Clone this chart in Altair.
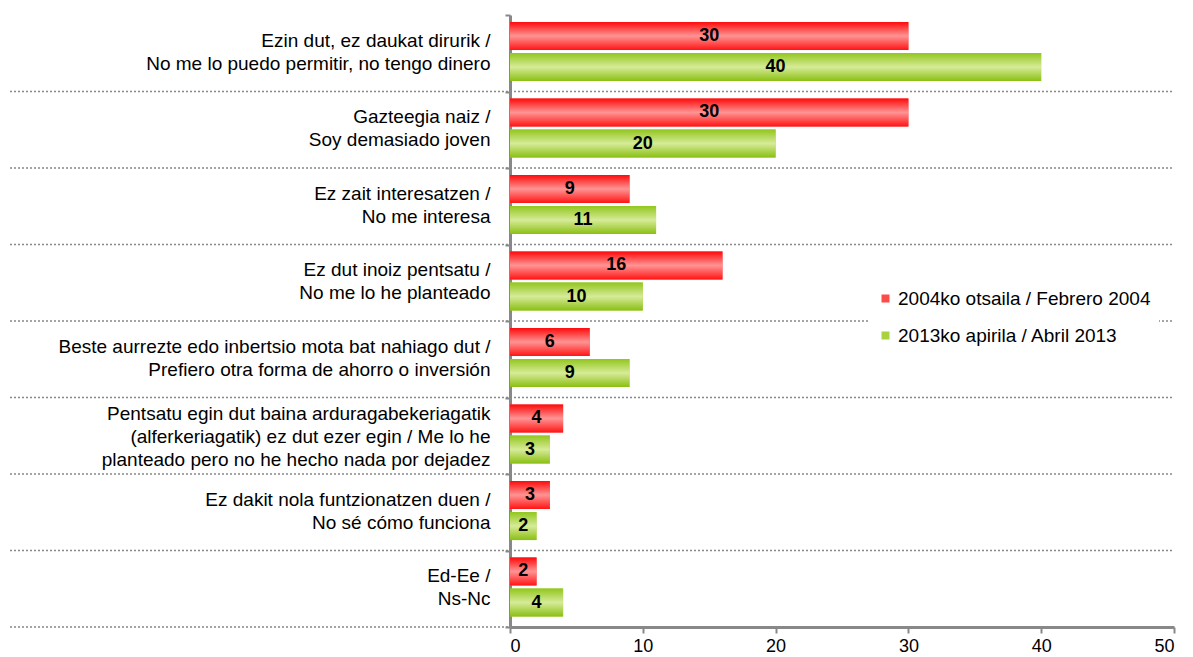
import altair as alt
import pandas as pd

categories = [
    "Ezin dut, ez daukat dirurik /\nNo me lo puedo permitir, no tengo dinero",
    "Gazteegia naiz /\nSoy demasiado joven",
    "Ez zait interesatzen /\nNo me interesa",
    "Ez dut  inoiz pentsatu /\nNo me lo he planteado",
    "Beste aurrezte edo inbertsio mota bat nahiago dut /\nPrefiero otra forma de ahorro o inversión",
    "Pentsatu egin dut baina arduragabekeriagatik\n(alferkeriagatik) ez dut ezer egin / Me lo he\nplanteado pero no he hecho nada por dejadez",
    "Ez dakit nola funtzionatzen duen /\nNo sé cómo funciona",
    "Ed-Ee /\nNs-Nc",
]
series = ["2004ko otsaila / Febrero 2004", "2013ko apirila / Abril 2013"]
values_2004 = [30, 30, 9, 16, 6, 4, 3, 2]
values_2013 = [40, 20, 11, 10, 9, 3, 2, 4]
x_ticks = [0, 10, 20, 30, 40, 50]

rows = []
for c, a, b in zip(categories, values_2004, values_2013):
    rows.append({"category": c, "series": series[0], "value": a})
    rows.append({"category": c, "series": series[1], "value": b})
df = pd.DataFrame(rows)
sep_df = pd.DataFrame({"category": categories})

red_grad = {"gradient": "linear", "x1": 0, "x2": 0, "y1": 0, "y2": 1,
            "stops": [{"offset": 0, "color": "#ff0a0a"},
                      {"offset": 0.5, "color": "#ff9494"},
                      {"offset": 1, "color": "#ff1414"}]}
green_grad = {"gradient": "linear", "x1": 0, "x2": 0, "y1": 0, "y2": 1,
              "stops": [{"offset": 0, "color": "#92c61e"},
                        {"offset": 0.5, "color": "#d6eb98"},
                        {"offset": 1, "color": "#8abf12"}]}

FS = 19

y_axis = alt.Axis(title=None,
                  labelExpr="split(datum.label, '\\n')",
                  labelFontSize=FS, labelColor="#000000",
                  labelLineHeight=23, labelAlign="right",
                  labelBaseline="middle", labelLimit=0,
                  labelOverlap=False,
                  labelOffset={"condition": {"test": "length(split(datum.value, '\\n')) > 2",
                                             "value": -22},
                               "value": -13},
                  tickBand="extent", ticks=True, tickSize=5,
                  tickColor="#888888", tickWidth=2,
                  labelPadding=15, grid=False,
                  domainColor="#888888", domainWidth=3)
y_scale = alt.Scale(paddingInner=0, paddingOuter=0)

y_enc = alt.Y("category:N", sort=categories, scale=y_scale, axis=y_axis)
yoff_enc = alt.YOffset("series:N", sort=series,
                       scale=alt.Scale(paddingInner=0.1, paddingOuter=0.28, align=0.4))
x_enc = alt.X("value:Q",
              scale=alt.Scale(domain=[0, 50], nice=False),
              axis=alt.Axis(title=None, values=x_ticks, grid=False,
                            domainColor="#888888", domainWidth=3,
                            tickColor="#888888", tickWidth=2, tickSize=6,
                            labelFontSize=18, labelColor="#000000",
                            labelPadding=4))

separators = alt.Chart(sep_df).mark_rule(
    color="#888888", strokeDash=[2, 2], strokeWidth=1.5
).encode(
    y=alt.Y("category:N", sort=categories, scale=y_scale, axis=y_axis, bandPosition=1),
    x=alt.value(-500), x2=alt.value(664),
)

base = alt.Chart(df)

legend_bars = base.mark_bar().encode(
    y=y_enc, yOffset=yoff_enc, x=x_enc,
    color=alt.Color("series:N", sort=series,
                    scale=alt.Scale(domain=series, range=["#ff4a4a", "#a8d23e"]),
                    legend=alt.Legend(title=None, orient="none",
                                      legendX=358, legendY=266,
                                      fillColor="white", padding=8,
                                      symbolType="square", symbolSize=64,
                                      symbolStrokeWidth=0,
                                      labelFontSize=FS, labelColor="#000000",
                                      labelLimit=0, labelOffset=3,
                                      rowPadding=17)),
)

red_bars = base.transform_filter(alt.datum.series == series[0]).mark_bar(
    fill=red_grad).encode(y=y_enc, yOffset=yoff_enc, x=x_enc)
green_bars = base.transform_filter(alt.datum.series == series[1]).mark_bar(
    fill=green_grad).encode(y=y_enc, yOffset=yoff_enc, x=x_enc)

labels = base.transform_calculate(mid="datum.value / 2").mark_text(
    fontWeight="bold", fontSize=18, color="#000000", baseline="middle"
).encode(y=y_enc, yOffset=yoff_enc, x=alt.X("mid:Q"), text=alt.Text("value:Q"))

chart = alt.layer(separators, legend_bars, red_bars, green_bars, labels).properties(
    width=664, height=612,
    autosize=alt.AutoSizeParams(type="none"),
    padding={"left": 502, "top": 7, "right": 9, "bottom": 30},
).configure(font="Liberation Sans").configure_view(stroke=None)

chart.save("out.html", embed_options={"renderer": "svg", "actions": False})
